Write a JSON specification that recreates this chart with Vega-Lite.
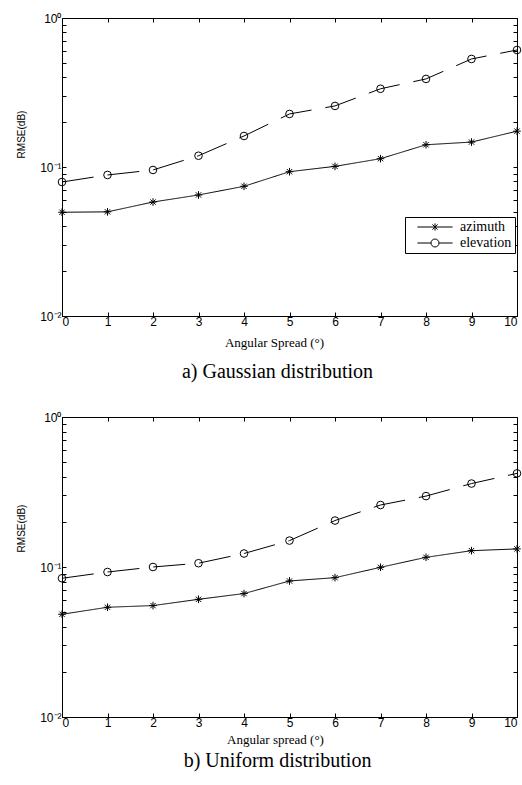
{
  "$schema": "https://vega.github.io/schema/vega-lite/v6.json",
  "background": "white",
  "padding": {"left": 15, "top": 11, "right": 5, "bottom": 5},
  "spacing": 27,
  "config": {
    "view": {"stroke": "black", "strokeWidth": 1},
    "axis": {
      "grid": false,
      "domainColor": "black",
      "domainWidth": 1,
      "tickColor": "black",
      "tickWidth": 1,
      "tickSize": -4,
      "labelColor": "black",
      "titleColor": "black",
      "labelFont": "Liberation Sans",
      "labelFontSize": 12,
      "labelOverlap": false,
      "titleFontWeight": "normal"
    },
    "legend": {
      "labelFont": "Liberation Serif",
      "labelFontSize": 14,
      "labelColor": "black"
    }
  },
  "vconcat": [
    {
      "width": 455,
      "height": 298,
      "title": {"text": "a)  Gaussian distribution", "orient": "bottom", "frame": "group", "anchor": "middle", "dx": -12, "offset": 13, "font": "Liberation Serif", "fontSize": 20, "fontWeight": "normal", "color": "black"},
      "data": {"values": [
        {"x": 0, "rmse": 0.0497, "series": "azimuth"},
        {"x": 1, "rmse": 0.050, "series": "azimuth"},
        {"x": 2, "rmse": 0.0582, "series": "azimuth"},
        {"x": 3, "rmse": 0.0649, "series": "azimuth"},
        {"x": 4, "rmse": 0.0742, "series": "azimuth"},
        {"x": 5, "rmse": 0.093, "series": "azimuth"},
        {"x": 6, "rmse": 0.101, "series": "azimuth"},
        {"x": 7, "rmse": 0.1137, "series": "azimuth"},
        {"x": 8, "rmse": 0.141, "series": "azimuth"},
        {"x": 9, "rmse": 0.147, "series": "azimuth"},
        {"x": 10, "rmse": 0.174, "series": "azimuth"},
        {"x": 0, "rmse": 0.0793, "series": "elevation"},
        {"x": 1, "rmse": 0.0884, "series": "elevation"},
        {"x": 2, "rmse": 0.0955, "series": "elevation"},
        {"x": 3, "rmse": 0.119, "series": "elevation"},
        {"x": 4, "rmse": 0.1615, "series": "elevation"},
        {"x": 5, "rmse": 0.227, "series": "elevation"},
        {"x": 6, "rmse": 0.257, "series": "elevation"},
        {"x": 7, "rmse": 0.335, "series": "elevation"},
        {"x": 8, "rmse": 0.39, "series": "elevation"},
        {"x": 9, "rmse": 0.531, "series": "elevation"},
        {"x": 10, "rmse": 0.61, "series": "elevation"}
      ]},
      "layer": [
        {
          "mark": {"type": "line", "color": "black", "strokeWidth": 1},
          "encoding": {
            "x": {"field": "x", "type": "quantitative", "scale": {"domain": [0, 10], "nice": false},
                  "axis": {"orient": "bottom", "values": [0,1,2,3,4,5,6,7,8,9,10], "format": "d", "labelPadding": 4,
                           "title": "Angular Spread  (°)", "titleFont": "Liberation Serif", "titleFontSize": 13,
                           "titleX": 212, "titleY": 26, "titleBaseline": "middle"}},
            "y": {"field": "rmse", "type": "quantitative", "scale": {"type": "log", "domain": [0.01, 1], "nice": false},
                  "axis": {"orient": "left", "values": [0.01,0.02,0.03,0.04,0.05,0.06,0.07,0.08,0.09,0.1,0.2,0.3,0.4,0.5,0.6,0.7,0.8,0.9,1],
                           "labelExpr": "datum.value == 1 ? '10⁰' : (abs(datum.value - 0.1) < 1e-9 ? '10⁻¹' : (abs(datum.value - 0.01) < 1e-9 ? '10⁻²' : ''))",
                           "labelPadding": 5,
                           "title": "RMSE(dB)", "titleFont": "Liberation Sans", "titleFontSize": 10,
                           "titleX": -41, "titleY": 116, "titleBaseline": "middle", "titleAngle": -90}},
            "detail": {"field": "series"},
            "strokeDash": {"condition": {"test": "datum.series === 'elevation'", "value": [32, 14]}, "value": [1, 0]}
          }
        },
        {
          "mark": {"type": "point", "filled": false, "color": "black", "strokeWidth": 1, "size": 58, "opacity": 1},
          "encoding": {
            "x": {"field": "x", "type": "quantitative",
                  "axis": {"orient": "top", "values": [0,1,2,3,4,5,6,7,8,9,10], "labels": false, "domain": false, "title": null}},
            "y": {"field": "rmse", "type": "quantitative",
                  "axis": {"orient": "right", "values": [0.01,0.02,0.03,0.04,0.05,0.06,0.07,0.08,0.09,0.1,0.2,0.3,0.4,0.5,0.6,0.7,0.8,0.9,1], "labels": false, "domain": false, "title": null}},
            "shape": {"field": "series", "type": "nominal",
                      "scale": {"domain": ["azimuth", "elevation"], "range": ["M-1,0L1,0M0,-1L0,1M-0.7,-0.7L0.7,0.7M-0.7,0.7L0.7,-0.7", "circle"]},
                      "legend": null}
          }
        },
        {
          "transform": [{"filter": "datum.x < 0"}],
          "mark": {"type": "point", "filled": false, "color": "black", "strokeWidth": 1, "size": 64, "opacity": 1},
          "encoding": {
            "shape": {"field": "series", "type": "nominal",
                      "scale": {"domain": ["azimuth", "elevation"], "range": ["M-4.4,0L4.4,0M0,-0.9L0,0.9M-0.65,-0.65L0.65,0.65M-0.65,0.65L0.65,-0.65", "M-4.4,0L-1,0M1,0L4.4,0M-1,0A1,1,0,1,1,1,0A1,1,0,1,1,-1,0"]},
                      "legend": {"title": null, "orient": "none", "legendX": 343, "legendY": 199,
                                 "strokeColor": "black", "fillColor": "white", "padding": 3, "cornerRadius": 0,
                                 "symbolSize": 64, "symbolOffset": 20, "labelOffset": 18, "rowPadding": 2,
                                 "symbolStrokeColor": "black", "symbolStrokeWidth": 1}}
          }
        }
      ],
      "resolve": {"scale": {"shape": "independent"}}
    },
    {
      "width": 455,
      "height": 300,
      "title": {"text": "b) Uniform distribution", "orient": "bottom", "frame": "group", "anchor": "middle", "dx": -12, "offset": 5, "font": "Liberation Serif", "fontSize": 20, "fontWeight": "normal", "color": "black"},
      "data": {"values": [
        {"x": 0, "rmse": 0.0484, "series": "azimuth"},
        {"x": 1, "rmse": 0.0539, "series": "azimuth"},
        {"x": 2, "rmse": 0.0553, "series": "azimuth"},
        {"x": 3, "rmse": 0.0609, "series": "azimuth"},
        {"x": 4, "rmse": 0.0665, "series": "azimuth"},
        {"x": 5, "rmse": 0.0807, "series": "azimuth"},
        {"x": 6, "rmse": 0.0849, "series": "azimuth"},
        {"x": 7, "rmse": 0.0995, "series": "azimuth"},
        {"x": 8, "rmse": 0.116, "series": "azimuth"},
        {"x": 9, "rmse": 0.1285, "series": "azimuth"},
        {"x": 10, "rmse": 0.132, "series": "azimuth"},
        {"x": 0, "rmse": 0.0841, "series": "elevation"},
        {"x": 1, "rmse": 0.0926, "series": "elevation"},
        {"x": 2, "rmse": 0.100, "series": "elevation"},
        {"x": 3, "rmse": 0.106, "series": "elevation"},
        {"x": 4, "rmse": 0.123, "series": "elevation"},
        {"x": 5, "rmse": 0.150, "series": "elevation"},
        {"x": 6, "rmse": 0.204, "series": "elevation"},
        {"x": 7, "rmse": 0.259, "series": "elevation"},
        {"x": 8, "rmse": 0.297, "series": "elevation"},
        {"x": 9, "rmse": 0.360, "series": "elevation"},
        {"x": 10, "rmse": 0.421, "series": "elevation"}
      ]},
      "layer": [
        {
          "mark": {"type": "line", "color": "black", "strokeWidth": 1},
          "encoding": {
            "x": {"field": "x", "type": "quantitative", "scale": {"domain": [0, 10], "nice": false},
                  "axis": {"orient": "bottom", "values": [0,1,2,3,4,5,6,7,8,9,10], "format": "d", "labelPadding": 4,
                           "title": "Angular spread  (°)", "titleFont": "Liberation Serif", "titleFontSize": 13,
                           "titleX": 213, "titleY": 22, "titleBaseline": "middle"}},
            "y": {"field": "rmse", "type": "quantitative", "scale": {"type": "log", "domain": [0.01, 1], "nice": false},
                  "axis": {"orient": "left", "values": [0.01,0.02,0.03,0.04,0.05,0.06,0.07,0.08,0.09,0.1,0.2,0.3,0.4,0.5,0.6,0.7,0.8,0.9,1],
                           "labelExpr": "datum.value == 1 ? '10⁰' : (abs(datum.value - 0.1) < 1e-9 ? '10⁻¹' : (abs(datum.value - 0.01) < 1e-9 ? '10⁻²' : ''))",
                           "labelPadding": 5,
                           "title": "RMSE(dB)", "titleFont": "Liberation Sans", "titleFontSize": 10,
                           "titleX": -41, "titleY": 111, "titleBaseline": "middle", "titleAngle": -90}},
            "detail": {"field": "series"},
            "strokeDash": {"condition": {"test": "datum.series === 'elevation'", "value": [32, 14]}, "value": [1, 0]}
          }
        },
        {
          "mark": {"type": "point", "filled": false, "color": "black", "strokeWidth": 1, "size": 58, "opacity": 1},
          "encoding": {
            "x": {"field": "x", "type": "quantitative",
                  "axis": {"orient": "top", "values": [0,1,2,3,4,5,6,7,8,9,10], "labels": false, "domain": false, "title": null}},
            "y": {"field": "rmse", "type": "quantitative",
                  "axis": {"orient": "right", "values": [0.01,0.02,0.03,0.04,0.05,0.06,0.07,0.08,0.09,0.1,0.2,0.3,0.4,0.5,0.6,0.7,0.8,0.9,1], "labels": false, "domain": false, "title": null}},
            "shape": {"field": "series", "type": "nominal",
                      "scale": {"domain": ["azimuth", "elevation"], "range": ["M-1,0L1,0M0,-1L0,1M-0.7,-0.7L0.7,0.7M-0.7,0.7L0.7,-0.7", "circle"]},
                      "legend": null}
          }
        }
      ]
    }
  ],
  "resolve": {"scale": {"shape": "independent"}, "legend": {"shape": "independent"}}
}
